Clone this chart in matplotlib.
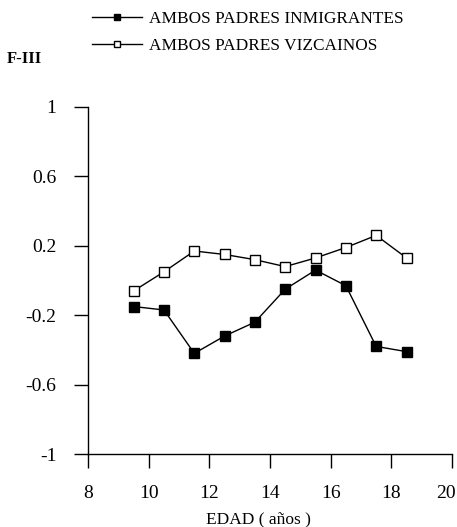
import numpy as np
import matplotlib
matplotlib.use("Agg")
import matplotlib.pyplot as plt
import matplotlib.transforms as mtransforms

# age groups (years) and F-III factor scores
edad = [9.5, 10.5, 11.5, 12.5, 13.5, 14.5, 15.5, 16.5, 17.5, 18.5]
inmigrantes = [-0.15, -0.17, -0.42, -0.32, -0.24, -0.05, 0.06, -0.03, -0.38, -0.41]
vizcainos = [-0.06, 0.05, 0.17, 0.15, 0.12, 0.08, 0.13, 0.19, 0.26, 0.13]

xticks = [8, 10, 12, 14, 16, 18, 20]
yticks = [-1, -0.6, -0.2, 0.2, 0.6, 1]
ytick_labels = ['-1', '-0.6', '-0.2', '0.2', '0.6', '1']

plt.rcParams.update({
    'font.family': 'Liberation Serif',
    'font.size': 13,
    'xtick.labelsize': 14,
    'ytick.labelsize': 14,
})

fig = plt.figure(figsize=(4.57, 5.27), dpi=100)
ax = fig.add_axes([0.193, 0.1385, 0.796, 0.6585])

h1, = ax.plot(edad, inmigrantes, color='black', lw=1.0, marker='s',
              ms=7, mfc='black', mec='black')
h2, = ax.plot(edad, vizcainos, color='black', lw=1.0, marker='s',
              ms=7, mfc='white', mec='black', mew=1.0)

ax.set_xlim(8, 20)
ax.set_ylim(-1, 1)
ax.set_xticks(xticks)
ax.set_yticks(yticks)
ax.set_yticklabels(ytick_labels)
ax.tick_params(direction='out', length=10, width=1.0)
ax.tick_params(axis='y', pad=13)
ax.tick_params(axis='x', pad=12)

# keep the last x label inside the figure
last = ax.get_xticklabels()[-1]
last.set_transform(last.get_transform() +
                   mtransforms.ScaledTranslation(-6 / 100, 0, fig.dpi_scale_trans))

for s in ['top', 'right']:
    ax.spines[s].set_visible(False)
for s in ['left', 'bottom']:
    ax.spines[s].set_linewidth(1.0)

ax.set_xlabel('EDAD ( años )', fontsize=12.5)
ax.xaxis.set_label_coords(0.468, -0.165)

fig.text(0.015, 0.888, 'F-III', fontsize=12, fontweight='bold', va='center')

fig.legend([h1, h2],
           ['AMBOS PADRES INMIGRANTES', 'AMBOS PADRES VIZCAINOS'],
           loc='upper left', bbox_to_anchor=(0.168, 1.008),
           frameon=False, handlelength=2.9, handletextpad=0.4,
           labelspacing=0.6, markerscale=0.7, fontsize=12.4)

fig.savefig('out.png', dpi=100)
